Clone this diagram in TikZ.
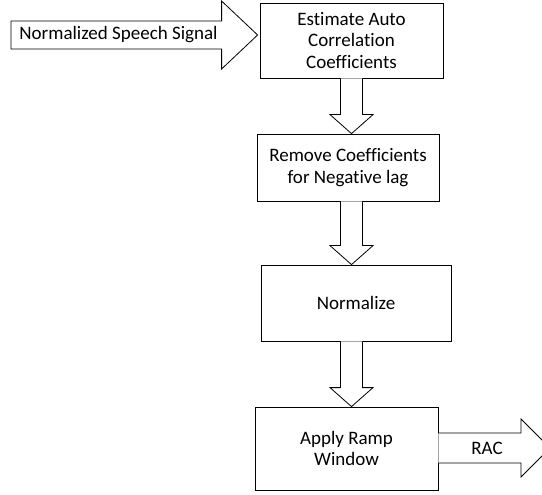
\documentclass[tikz,border=0pt]{standalone}
\usepackage{fontspec}
\setmainfont[Ligatures=NoCommon]{Carlito}
\usetikzlibrary{calc}
\tikzset{
  box/.style={draw, line width=0.8pt, align=center, inner sep=2pt, font=\fontsize{19}{21.5}\selectfont},
  barrow/.style={draw, line width=0.8pt, line join=miter, fill=white},
  lbl/.style={font=\fontsize{19}{21.5}\selectfont, inner sep=0pt}
}
\newcommand{\vblock}[2]{%
  \draw[barrow] ($(#1)+(-11,0)$) -- ($(#2)+(-11,-19)$) -- ($(#2)+(-21.5,-19)$) -- (#2)
    -- ($(#2)+(21.5,-19)$) -- ($(#2)+(11,-19)$) -- ($(#1)+(11,0)$);}
\begin{document}
\begin{tikzpicture}[x=1pt,y=-1pt]
\useasboundingbox (0,0) rectangle (542,495);
\clip (0,0) rectangle (542,495);
\fill[white] (0,0) rectangle (542,495);
% boxes
\node[box, minimum width=183pt, minimum height=75pt] (b1) at (351.5,40.5) {Estimate Auto\\Correlation\\Coefficients};
\node[box, minimum width=182pt, minimum height=67pt] (b2) at (348,167.5) {Remove Coefficients\\for Negative lag};
\node[box, minimum width=190pt, minimum height=76pt] (b3) at (356,303) {Normalize};
\node[box, minimum width=183pt, minimum height=83pt] (b4) at (346.5,448.5) {Apply Ramp\\Window};
% input arrow
\coordinate (intip) at ($(b1.west)+(-2,-5.5)$);
\coordinate (inbase) at (11,35);
\draw[barrow] ($(inbase)+(0,-14)$) -- ($(intip)+(-36,-14)$) -- ($(intip)+(-36,-34)$) -- (intip)
  -- ($(intip)+(-36,34)$) -- ($(intip)+(-36,14)$) -- ($(inbase)+(0,14)$) -- cycle;
\node[lbl] (in) at (118.5,35) {Normalized Speech Signal};
% vertical arrows
\coordinate (t1) at (b1.south |- b2.north);
\coordinate (s2) at (b1.south |- b2.south);
\coordinate (t2) at (b1.south |- b3.north);
\coordinate (s3) at (b1.south |- b3.south);
\coordinate (t3) at (b1.south |- b4.north);
\vblock{b1.south}{t1}
\vblock{s2}{t2}
\vblock{s3}{t3}
% output arrow
\coordinate (outtip) at (550,448);
\draw[barrow] ($(b4.east)+(0,-15.5)$) -- ($(outtip)+(-29,-15)$) -- ($(outtip)+(-29,-29)$) -- (outtip)
  -- ($(outtip)+(-29,29)$) -- ($(outtip)+(-29,15)$) -- ($(b4.east)+(0,14.5)$);
\node[lbl] (out) at (487,448) {RAC};
\end{tikzpicture}
\end{document}
